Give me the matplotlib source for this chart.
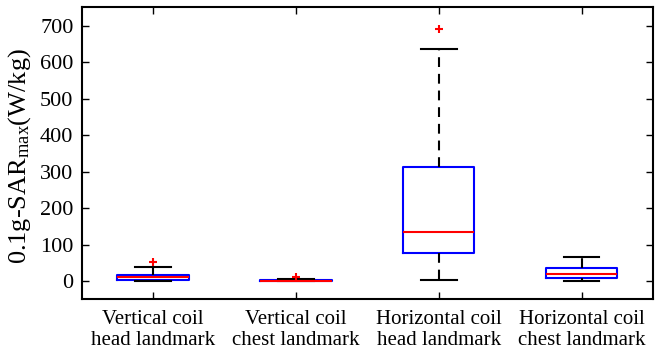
import matplotlib
matplotlib.use('Agg')
import matplotlib.pyplot as plt

# box statistics (W/kg)
labels = ['Vertical coil\nhead landmark', 'Vertical coil\nchest landmark',
          'Horizontal coil\nhead landmark', 'Horizontal coil\nchest landmark']
whislo = [0, 0, 2, 0]
q1 = [4, 0, 78, 8]
med = [11, 1, 135, 19]
q3 = [17, 3, 313, 35]
whishi = [38, 6, 636, 65]
fliers = [[53], [10], [691], []]

plt.rcParams['font.family'] = ['Liberation Serif', 'DejaVu Serif']
plt.rcParams['mathtext.fontset'] = 'custom'
plt.rcParams['mathtext.rm'] = 'Liberation Serif'
plt.rcParams['mathtext.it'] = 'Liberation Serif'

stats = []
for i in range(len(labels)):
    stats.append({'whislo': whislo[i], 'q1': q1[i], 'med': med[i], 'q3': q3[i],
                  'whishi': whishi[i], 'fliers': fliers[i], 'label': labels[i]})

fig = plt.figure(figsize=(6.58, 3.51), dpi=100)
ax = fig.add_axes([0.1242, 0.1473, 0.8682, 0.8319])

ax.bxp(stats, widths=0.5, showfliers=True,
       boxprops=dict(color='blue', linewidth=1.5),
       medianprops=dict(color='red', linewidth=1.5),
       whiskerprops=dict(color='black', linewidth=1.5, linestyle=(0, (4.7, 3.3))),
       capprops=dict(color='black', linewidth=1.5),
       capwidths=0.25,
       flierprops=dict(marker='+', markeredgecolor='red', markersize=6, markeredgewidth=1.5))

ax.set_xlim(0.5, 4.5)
ax.set_ylim(-50, 750)
ax.set_yticks(range(0, 701, 100))
ax.tick_params(direction='in', top=True, right=True, length=5, width=1)
ax.tick_params(axis='y', labelsize=16, pad=6)
ax.tick_params(axis='x', labelsize=15, pad=8)
for t in ax.get_xticklabels():
    t.set_linespacing(1.12)
for s in ax.spines.values():
    s.set_linewidth(1.5)

ax.set_ylabel(r'0.1g-SAR$_{\mathrm{max}}$(W/kg)', fontsize=19)
ax.yaxis.set_label_coords(-0.085, 0.49)

fig.savefig('out.png', dpi=100)
